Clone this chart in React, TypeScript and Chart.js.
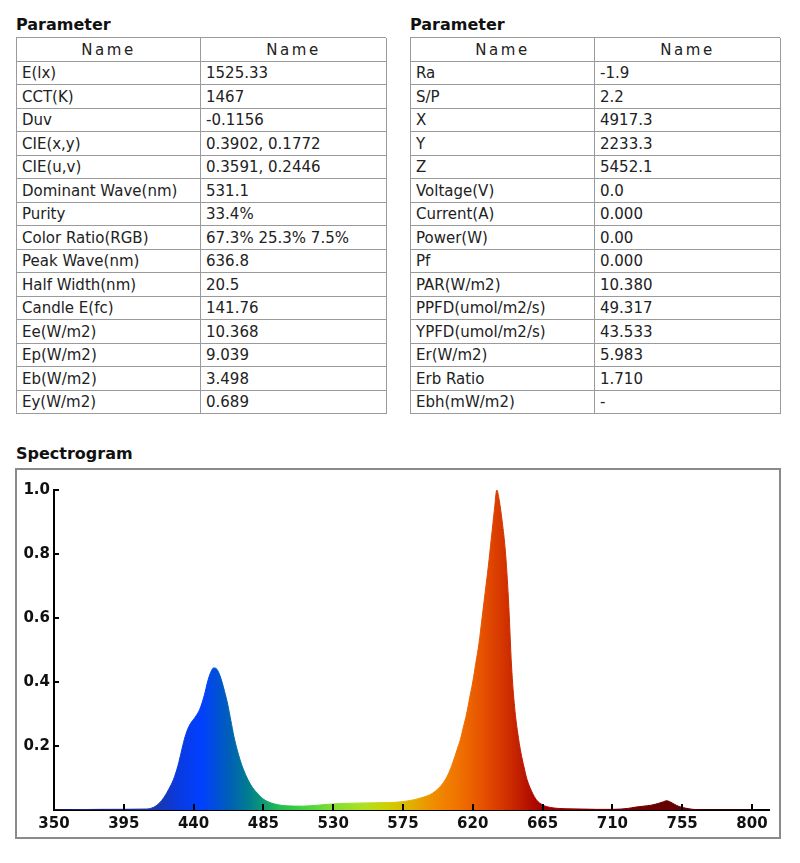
import React, { useEffect, useRef } from "react";
import { Chart, registerables } from "chart.js";

Chart.register(...registerables);

const FONT = '"DejaVu Sans", sans-serif';

const headerLabels = ["Name", "Name"];

const leftNames = [
  "E(lx)", "CCT(K)", "Duv", "CIE(x,y)", "CIE(u,v)", "Dominant Wave(nm)", "Purity",
  "Color Ratio(RGB)", "Peak Wave(nm)", "Half Width(nm)", "Candle E(fc)", "Ee(W/m2)",
  "Ep(W/m2)", "Eb(W/m2)", "Ey(W/m2)",
];
const leftValues = [
  "1525.33", "1467", "-0.1156", "0.3902, 0.1772", "0.3591, 0.2446", "531.1", "33.4%",
  "67.3% 25.3% 7.5%", "636.8", "20.5", "141.76", "10.368", "9.039", "3.498", "0.689",
];
const rightNames = [
  "Ra", "S/P", "X", "Y", "Z", "Voltage(V)", "Current(A)", "Power(W)", "Pf", "PAR(W/m2)",
  "PPFD(umol/m2/s)", "YPFD(umol/m2/s)", "Er(W/m2)", "Erb Ratio", "Ebh(mW/m2)",
];
const rightValues = [
  "-1.9", "2.2", "4917.3", "2233.3", "5452.1", "0.0", "0.000", "0.00", "0.000", "10.380",
  "49.317", "43.533", "5.983", "1.710", "-",
];

const wavelengths = [
  350, 380, 410, 414, 418, 421, 424, 427, 430, 432, 434, 436, 438, 441, 444, 447, 449, 451,
  453, 455, 457, 460, 462, 464, 466, 468, 470, 472, 475, 478, 481, 485, 490, 495, 500, 510,
  520, 530, 540, 550, 560, 570, 580, 586, 590, 594, 598, 601, 604, 607, 610, 612, 614, 616,
  618, 620, 622, 624, 626, 628, 630, 632, 634, 635.5, 637, 639, 641, 643, 645, 647, 649, 651,
  653, 655, 658, 661, 665, 670, 675, 680, 690, 700, 710, 720, 725, 730, 735, 740, 743, 745,
  747, 750, 753, 757, 762, 770, 800,
];
const intensities = [
  0, 0.002, 0.003, 0.008, 0.022, 0.04, 0.065, 0.095, 0.14, 0.18, 0.22, 0.25, 0.27, 0.29, 0.315,
  0.36, 0.4, 0.43, 0.444, 0.44, 0.42, 0.37, 0.33, 0.28, 0.23, 0.19, 0.156, 0.128, 0.095, 0.07,
  0.053, 0.034, 0.022, 0.016, 0.013, 0.012, 0.015, 0.019, 0.021, 0.022, 0.023, 0.024, 0.03,
  0.037, 0.043, 0.052, 0.068, 0.085, 0.11, 0.146, 0.19, 0.22, 0.26, 0.3, 0.35, 0.4, 0.46, 0.52,
  0.6, 0.68, 0.76, 0.85, 0.94, 1.0, 0.97, 0.9, 0.81, 0.66, 0.45, 0.32, 0.24, 0.18, 0.135, 0.095,
  0.058, 0.032, 0.016, 0.008, 0.005, 0.004, 0.003, 0.002, 0.002, 0.005, 0.009, 0.012, 0.015,
  0.021, 0.026, 0.029, 0.026, 0.018, 0.011, 0.006, 0.002, 0, 0,
];

const xTicks = [350, 395, 440, 485, 530, 575, 620, 665, 710, 755, 800];
const yTicks = [0.2, 0.4, 0.6, 0.8, 1.0];

const gradientNm = [380, 415, 430, 445, 455, 465, 475, 485, 495, 510, 530, 550, 565, 580, 595, 610, 625, 640, 655, 665, 690, 760];
const gradientColors = [
  "#1a237e", "#1a36a8", "#0a3ae0", "#0040ff", "#0050d8", "#0064b0", "#007c90", "#109a74",
  "#22bb50", "#40d040", "#80e030", "#b0e020", "#d0d000", "#e0b000", "#f08c00", "#f07400",
  "#e85400", "#d43400", "#b81200", "#a00000", "#800000", "#600000",
];

const BORDER = "1px solid #9a9a9a";

function ParamTable({ left, names, values }: { left: number; names: string[]; values: string[] }) {
  const rows: string[][] = [headerLabels, ...names.map((n, i) => [n, values[i]])];
  return (
    <div
      style={{
        position: "absolute",
        left,
        top: 37,
        width: 370,
        display: "grid",
        gridTemplateColumns: "184px 186px",
        gridTemplateRows: `repeat(${rows.length}, 23.5px)`,
        borderTop: BORDER,
        borderLeft: BORDER,
        boxSizing: "border-box",
        fontFamily: FONT,
        fontSize: 15,
        color: "#222",
      }}
    >
      {rows.flatMap((r, i) =>
        r.map((c, j) => (
          <div
            key={i + "-" + j}
            style={{
              borderRight: BORDER,
              borderBottom: BORDER,
              boxSizing: "border-box",
              display: "flex",
              alignItems: "center",
              justifyContent: i === 0 ? "center" : "flex-start",
              paddingLeft: i === 0 ? 0 : 5,
              paddingTop: 2,
              letterSpacing: i === 0 ? "2.5px" : "0px",
              whiteSpace: "nowrap",
              overflow: "hidden",
              lineHeight: 1,
            }}
          >
            {c}
          </div>
        ))
      )}
    </div>
  );
}

function Title({ text, left, top }: { text: string; left: number; top: number }) {
  return (
    <div
      style={{
        position: "absolute",
        left,
        top,
        fontFamily: FONT,
        fontWeight: "bold",
        fontSize: 16,
        lineHeight: "20px",
        color: "#111",
        whiteSpace: "nowrap",
      }}
    >
      {text}
    </div>
  );
}

function Spectrum() {
  const ref = useRef<HTMLCanvasElement>(null);
  useEffect(() => {
    const canvas = ref.current;
    if (!canvas) return;

    const fillFn = (c: any) => {
      const chart = c.chart;
      if (!chart.chartArea) return "rgba(0,0,0,0)";
      const xs = chart.scales.x;
      const x0 = xs.getPixelForValue(gradientNm[0]);
      const x1 = xs.getPixelForValue(gradientNm[gradientNm.length - 1]);
      const g = chart.ctx.createLinearGradient(x0, 0, x1, 0);
      gradientNm.forEach((w, i) => {
        const o = (xs.getPixelForValue(w) - x0) / (x1 - x0);
        g.addColorStop(Math.min(1, Math.max(0, o)), gradientColors[i]);
      });
      return g;
    };

    const inwardTicks = {
      id: "inwardTicks",
      afterDraw(chart: any) {
        const { ctx, chartArea } = chart;
        const xs = chart.scales.x;
        const ys = chart.scales.y;
        ctx.save();
        ctx.strokeStyle = "#000";
        ctx.lineWidth = 2;
        ctx.beginPath();
        xTicks.forEach((v) => {
          if (v === xs.min) return;
          const px = Math.round(xs.getPixelForValue(v));
          ctx.moveTo(px, chartArea.bottom);
          ctx.lineTo(px, chartArea.bottom - 6);
        });
        yTicks.forEach((v) => {
          const py = Math.round(ys.getPixelForValue(v));
          ctx.moveTo(chartArea.left, py);
          ctx.lineTo(chartArea.left + 5, py);
        });
        ctx.stroke();
        ctx.restore();
      },
    };

    const tickFont = { family: FONT, size: 15, weight: "bold" as const };

    const chart = new Chart(canvas, {
      type: "line",
      data: {
        datasets: [
          {
            data: wavelengths.map((w, i) => ({ x: w, y: intensities[i] })),
            fill: "origin",
            backgroundColor: fillFn,
            borderColor: fillFn,
            borderWidth: 1,
            pointRadius: 0,
            cubicInterpolationMode: "monotone",
          },
        ],
      },
      options: {
        animation: false,
        responsive: false,
        layout: { padding: { top: 20, right: 10, left: 0, bottom: 0 } },
        plugins: { legend: { display: false }, tooltip: { enabled: false } },
        scales: {
          x: {
            type: "linear",
            min: 350,
            max: 811,
            z: 1,
            afterBuildTicks: (s: any) => {
              s.ticks = xTicks.map((v) => ({ value: v }));
            },
            afterFit: (s: any) => {
              s.height = 27;
            },
            grid: { display: false, drawTicks: false },
            border: { display: true, color: "#000", width: 2 },
            ticks: {
              autoSkip: false,
              maxRotation: 0,
              padding: 5,
              color: "#111",
              font: tickFont,
              callback: (v: any) => String(v),
            },
          },
          y: {
            type: "linear",
            min: 0,
            max: 1,
            z: 1,
            afterBuildTicks: (s: any) => {
              s.ticks = yTicks.map((v) => ({ value: v }));
            },
            afterFit: (s: any) => {
              s.width = 37;
            },
            grid: { display: false, drawTicks: false },
            border: { display: true, color: "#000", width: 2 },
            ticks: {
              padding: 4,
              color: "#111",
              font: tickFont,
              callback: (v: any) => Number(v).toFixed(1),
            },
          },
        },
      },
      plugins: [inwardTicks],
    } as any);
    return () => chart.destroy();
  }, []);

  return <canvas ref={ref} width={762} height={367} style={{ display: "block" }} />;
}

export default function App() {
  return (
    <div style={{ position: "absolute", left: 0, top: 0, width: 800, height: 863, background: "#fff" }}>
      <Title text="Parameter" left={16} top={15} />
      <Title text="Parameter" left={410} top={15} />
      <ParamTable left={16} names={leftNames} values={leftValues} />
      <ParamTable left={410} names={rightNames} values={rightValues} />
      <Title text="Spectrogram" left={16} top={444} />
      <div
        style={{
          position: "absolute",
          left: 15,
          top: 468,
          width: 766,
          height: 371,
          border: "2px solid #8a8a8a",
          boxSizing: "border-box",
        }}
      >
        <Spectrum />
      </div>
    </div>
  );
}
